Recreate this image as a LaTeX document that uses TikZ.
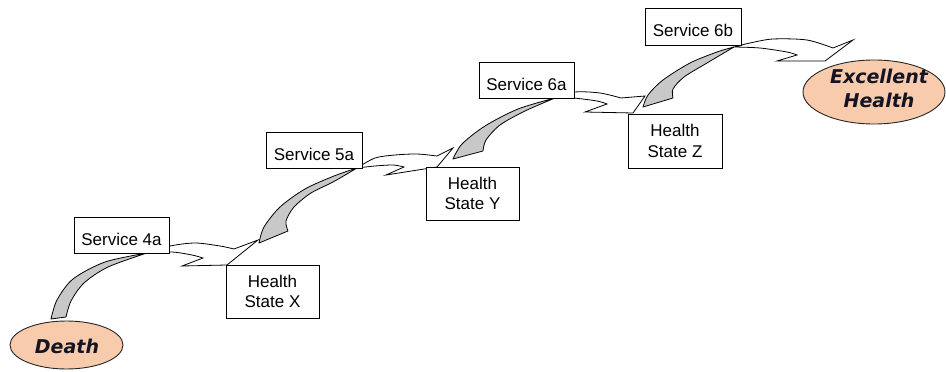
\documentclass[tikz,border=0pt]{standalone}
\usepackage{fontspec}
\setmainfont{Liberation Sans}
\newfontfamily\ovalfont{DejaVu Sans}
\usetikzlibrary{shapes.geometric}
\definecolor{peach}{RGB}{248,203,173}
\definecolor{ribbongray}{RGB}{200,200,200}
\definecolor{inktext}{RGB}{20,20,35}

\begin{document}
\begin{tikzpicture}[x=1pt,y=-1pt,
  back/.style={fill=ribbongray, draw=black, line width=0.8pt, line join=round},
  front/.style={fill=white, draw=black, line width=0.8pt, line join=miter},
  servicebox/.style={draw=black, fill=white, line width=0.9pt, inner sep=0pt,
    minimum width=95pt, minimum height=36pt, font=\fontsize{17}{21}\selectfont,
    text height=20pt, text depth=0pt},
  statebox/.style={draw=black, fill=white, line width=0.9pt, inner sep=0pt,
    minimum width=93pt, minimum height=53pt, align=center,
    font=\fontsize{17}{20.7}\selectfont},
  oval/.style={ellipse, draw=black!85, fill=peach, line width=0.9pt, inner sep=0pt},
  ovaltext/.style={font=\ovalfont\bfseries\itshape\fontsize{19}{24}\selectfont,
    align=center, text=inktext, inner sep=0pt}
]
\useasboundingbox (0,0) rectangle (946,372);

% ---- curved ribbon arrows: grey underside, white head ----
% Death -> Health State X
\path[back] (51,319) -- plot[smooth] coordinates {(51,319) (57,300) (73,279) (105,262) (147,253)}
  -- plot[smooth] coordinates {(147,253) (108,267) (84,283) (71,301) (66,317)} -- cycle;
\path[front] (147,253) -- plot[smooth] coordinates {(147,253) (170,246) (195,243) (220,246) (234,249)}
  -- (258,240) -- (227,265) -- (182,266) -- (203,258)
  -- plot[smooth] coordinates {(203,258) (192,255) (172,252) (147,253)} -- cycle;

% Health State X -> Health State Y
\path[back] (259,243) -- plot[smooth] coordinates {(259,243) (264,227) (280,207) (305,189) (334,176) (357,168)}
  -- plot[smooth] coordinates {(357,168) (333,182) (311,193) (294,207) (286,221) (288,231)} -- cycle;
\path[front] (357,168) -- plot[smooth] coordinates {(357,168) (375,158) (395,155) (417,154) (437,156)}
  -- (453,148) -- (437,167) -- (386,175) -- (404,167)
  -- plot[smooth] coordinates {(404,167) (393,165) (375,166) (357,168)} -- cycle;

% Health State Y -> Health State Z
\path[back] (453,159) -- plot[smooth] coordinates {(453,159) (462,144) (485,126) (518,109) (555,98)}
  -- plot[smooth] coordinates {(555,98) (525,111) (500,125) (486,140) (483,151)} -- cycle;
\path[front] (555,98) -- plot[smooth] coordinates {(555,98) (575,92) (600,93) (621,98)}
  -- (645,96) -- (633,113) -- (585,112) -- (607,104)
  -- plot[smooth] coordinates {(607,104) (597,101) (573,98) (555,98)} -- cycle;

% Health State Z -> Excellent Health
\path[back] (643,107) -- plot[smooth] coordinates {(643,107) (648,95) (663,80) (690,63) (717,52) (734,47)}
  -- plot[smooth] coordinates {(734,47) (707,63) (684,77) (673,89) (673,98)} -- cycle;
\path[front] (734,47) -- plot[smooth] coordinates {(734,47) (750,43) (773,39) (807,40) (833,48)}
  -- (853,40) -- (825,61) -- (777,61) -- (797,55)
  -- plot[smooth] coordinates {(797,55) (787,52) (760,48) (734,47)} -- cycle;

% ---- service boxes ----
\node[servicebox] (s4a) at (121.5,235) {Service 4a};
\node[servicebox, minimum width=96pt] (s5a) at (314,150) {Service 5a};
\node[servicebox] (s6a) at (526.5,80) {Service 6a};
\node[servicebox, minimum width=96pt, minimum height=37pt] (s6b) at (693,26.5) {Service 6b};

% ---- health states ----
\node[statebox] (hx) at (272.5,291.5) {Health\\State X};
\node[statebox] (hy) at (472.5,193.5) {Health\\State Y};
\node[statebox, minimum width=94pt, minimum height=54pt] (hz) at (675,141) {Health\\State Z};

% ---- end states ----
\node[oval, minimum width=113pt, minimum height=48pt] (death) at (66.5,345) {};
\node[ovaltext] (deathlabel) at (67,346.5) {Death};
\node[oval, minimum width=142pt, minimum height=64pt] (excellent) at (874,92) {};
\node[ovaltext] (excellentlabel) at (879,88) {Excellent\\Health};
\end{tikzpicture}
\end{document}
